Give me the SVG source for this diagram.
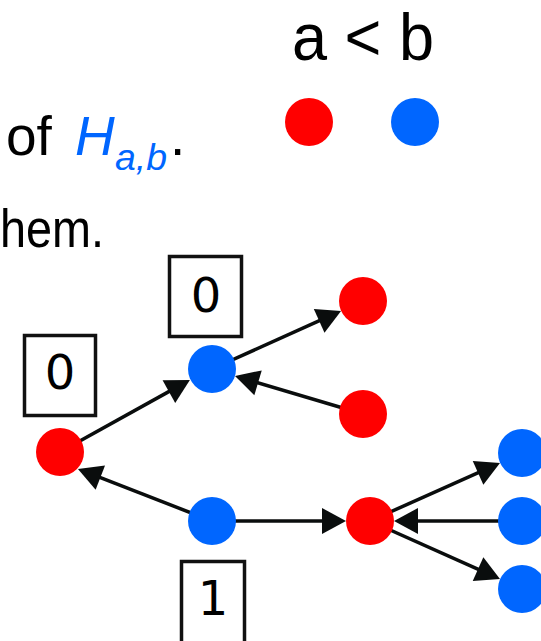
<svg xmlns="http://www.w3.org/2000/svg" width="541" height="641" viewBox="0 0 541 641">
<defs>
<style>
.txt{font-family:"Liberation Sans",Arial,sans-serif;fill:#000}
.red{fill:#ff0000}
.blue{fill:#0066ff}
.edge{stroke:#0a0d0d;stroke-width:3.5;fill:none;marker-end:url(#ah)}
.box{fill:#fff;stroke:#111;stroke-width:3.5}
.dig{font-family:"DejaVu Sans",sans-serif;font-size:48px;fill:#000;text-anchor:middle}
</style>
<marker id="ah" markerUnits="userSpaceOnUse" markerWidth="26" markerHeight="26" refX="4" refY="13" orient="auto" overflow="visible">
<path d="M0,0 L24,13 L0,26 z" fill="#0a0d0d"/>
</marker>
</defs>
<rect width="541" height="641" fill="#fff"/>
<g id="texts">
<text class="txt" x="292" y="60" font-size="66" textLength="142" lengthAdjust="spacingAndGlyphs">a &lt; b</text>
<text class="txt" x="6" y="155" font-size="55">of</text>
<text x="75" y="155" font-family="Liberation Sans,Arial,sans-serif" font-size="55" font-style="italic" fill="#0066ff">H</text>
<text x="115" y="170" font-family="Liberation Sans,Arial,sans-serif" font-size="36" font-style="italic" fill="#0066ff" textLength="52" lengthAdjust="spacingAndGlyphs">a,b</text>
<text class="txt" x="170" y="155" font-size="55">.</text>
<text class="txt" x="0" y="247" font-size="54" textLength="104" lengthAdjust="spacingAndGlyphs">hem.</text>
</g>
<g id="legend">
<circle class="red" cx="309" cy="122" r="24"/>
<circle class="blue" cx="415" cy="122" r="24"/>
</g>
<g id="connectors">
<line class="edge" x1="60" y1="452" x2="172.4" y2="389.6"/>
<line class="edge" x1="212" y1="369" x2="322.8" y2="319.2"/>
<line class="edge" x1="363" y1="414" x2="254.2" y2="381.7"/>
<line class="edge" x1="212" y1="521" x2="96.6" y2="476.2"/>
<line class="edge" x1="212" y1="521" x2="326" y2="521"/>
<line class="edge" x1="370" y1="521" x2="481.7" y2="471.2"/>
<line class="edge" x1="522" y1="521" x2="414" y2="521"/>
<line class="edge" x1="370" y1="521" x2="481.7" y2="570.8"/>
</g>
<g id="box-left"><rect class="box" x="24.5" y="335.5" width="71" height="80"/><text class="dig" x="60" y="389">0</text></g>
<g id="box-top"><rect class="box" x="169.5" y="256.5" width="72" height="80"/><text class="dig" x="206" y="312">0</text></g>
<g id="box-bottom"><rect class="box" x="181.5" y="561.5" width="63" height="90"/><text class="dig" x="213" y="615">1</text></g>
<g id="n-r1"><circle class="red" cx="60" cy="452" r="24"/></g>
<g id="n-b1"><circle class="blue" cx="212" cy="369" r="24"/></g>
<g id="n-b2"><circle class="blue" cx="212" cy="521" r="24"/></g>
<g id="n-r2"><circle class="red" cx="363" cy="301" r="24"/></g>
<g id="n-r3"><circle class="red" cx="363" cy="414" r="24"/></g>
<g id="n-r4"><circle class="red" cx="370" cy="521" r="24"/></g>
<g id="n-b3"><circle class="blue" cx="522" cy="453" r="24"/></g>
<g id="n-b4"><circle class="blue" cx="522" cy="521" r="24"/></g>
<g id="n-b5"><circle class="blue" cx="522" cy="589" r="24"/></g>
</svg>
